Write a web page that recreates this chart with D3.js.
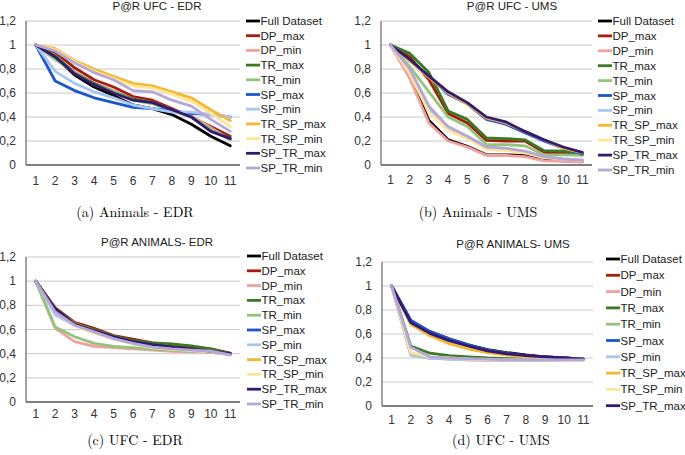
<!DOCTYPE html>
<html><head><meta charset="utf-8">
<script src="https://cdn.jsdelivr.net/npm/d3@7"></script>
<style>body{margin:0;background:#fff}svg{display:block}</style>
</head><body>
<script>
const xLabels = ["1","2","3","4","5","6","7","8","9","10","11"];
const yTicks = [0, 0.2, 0.4, 0.6, 0.8, 1, 1.2];
const yTickLabels = ["0","0,2","0,4","0,6","0,8","1","1,2"];
const seriesNames = ["Full Dataset","DP_max","DP_min","TR_max","TR_min","SP_max","SP_min","TR_SP_max","TR_SP_min","SP_TR_max","SP_TR_min"];
const seriesColors = ["#000000","#a61c0e","#f2a0a0","#3b7a22","#93c47d","#1c55d2","#a8c6f4","#f5b931","#ffe49a","#321a72","#b4a8d8"];

// (a) P@R UFC - EDR
const valuesA = [
  [1,0.90,0.75,0.65,0.58,0.50,0.47,0.42,0.34,0.24,0.16],
  [1,0.94,0.81,0.71,0.65,0.57,0.54,0.47,0.40,0.32,0.24],
  [1,0.88,0.78,0.68,0.62,0.55,0.52,0.46,0.41,0.31,0.21],
  [1,0.91,0.77,0.68,0.61,0.55,0.52,0.46,0.40,0.29,0.22],
  [1,0.88,0.77,0.67,0.61,0.54,0.51,0.45,0.40,0.30,0.21],
  [1,0.70,0.62,0.56,0.52,0.48,0.47,0.45,0.43,0.42,0.40],
  [1,0.78,0.68,0.61,0.56,0.50,0.47,0.44,0.44,0.42,0.40],
  [1,0.97,0.87,0.80,0.74,0.68,0.66,0.61,0.56,0.46,0.37],
  [1,0.96,0.86,0.78,0.72,0.66,0.64,0.59,0.53,0.43,0.32],
  [1,0.90,0.76,0.67,0.60,0.54,0.52,0.46,0.40,0.28,0.22],
  [1,0.95,0.85,0.77,0.71,0.62,0.61,0.54,0.49,0.38,0.28]
];
// (b) P@R UFC - UMS
const valuesB = [
  [1,0.74,0.37,0.21,0.155,0.085,0.085,0.08,0.045,0.035,0.03],
  [1,0.90,0.71,0.43,0.35,0.205,0.20,0.20,0.105,0.10,0.09],
  [1,0.72,0.35,0.20,0.15,0.08,0.08,0.07,0.035,0.03,0.025],
  [1,0.93,0.77,0.45,0.38,0.225,0.22,0.21,0.12,0.115,0.095],
  [1,0.82,0.61,0.40,0.32,0.17,0.17,0.16,0.085,0.085,0.08],
  [1,0.87,0.74,0.59,0.51,0.38,0.34,0.27,0.20,0.14,0.09],
  [1,0.78,0.47,0.31,0.23,0.14,0.13,0.11,0.07,0.05,0.04],
  [1,0.87,0.73,0.60,0.51,0.39,0.35,0.28,0.21,0.14,0.10],
  [1,0.76,0.44,0.29,0.22,0.13,0.12,0.10,0.06,0.05,0.04],
  [1,0.88,0.74,0.61,0.52,0.40,0.36,0.28,0.21,0.15,0.105],
  [1,0.80,0.49,0.32,0.24,0.15,0.14,0.115,0.07,0.05,0.04]
];
// (c) P@R ANIMALS- EDR
const valuesC = [
  [1,0.77,0.645,0.59,0.54,0.50,0.48,0.455,0.44,0.42,0.40],
  [1,0.78,0.66,0.61,0.55,0.52,0.49,0.47,0.455,0.44,0.405],
  [1,0.61,0.50,0.46,0.45,0.44,0.43,0.42,0.415,0.41,0.395],
  [1,0.77,0.65,0.60,0.545,0.51,0.49,0.48,0.465,0.44,0.40],
  [1,0.62,0.54,0.485,0.46,0.45,0.435,0.43,0.42,0.415,0.395],
  [1,0.74,0.64,0.585,0.53,0.49,0.46,0.445,0.435,0.42,0.395],
  [1,0.72,0.635,0.58,0.525,0.485,0.455,0.44,0.43,0.42,0.39],
  [1,0.76,0.65,0.59,0.535,0.495,0.465,0.45,0.435,0.42,0.395],
  [1,0.74,0.63,0.57,0.52,0.48,0.45,0.435,0.425,0.415,0.39],
  [1,0.77,0.645,0.59,0.54,0.50,0.475,0.455,0.44,0.42,0.40],
  [1,0.745,0.635,0.58,0.525,0.485,0.455,0.44,0.43,0.42,0.39]
];
// (d) P@R ANIMALS- UMS
const valuesD = [
  [1,0.71,0.62,0.56,0.51,0.47,0.445,0.425,0.41,0.40,0.39],
  [1,0.70,0.61,0.55,0.50,0.465,0.44,0.42,0.41,0.40,0.39],
  [1,0.43,0.40,0.39,0.385,0.38,0.38,0.38,0.38,0.385,0.385],
  [1,0.50,0.44,0.42,0.41,0.40,0.395,0.39,0.39,0.39,0.39],
  [1,0.425,0.40,0.395,0.39,0.385,0.385,0.385,0.385,0.385,0.385],
  [1,0.715,0.62,0.56,0.51,0.465,0.44,0.42,0.41,0.40,0.39],
  [1,0.43,0.40,0.39,0.385,0.38,0.38,0.38,0.38,0.385,0.385],
  [1,0.68,0.585,0.52,0.475,0.445,0.425,0.41,0.40,0.395,0.39],
  [1,0.445,0.41,0.40,0.39,0.385,0.385,0.385,0.385,0.385,0.385],
  [1,0.695,0.605,0.545,0.50,0.46,0.435,0.42,0.41,0.40,0.39],
  [1,0.49,0.41,0.40,0.395,0.39,0.385,0.385,0.385,0.385,0.385]
];

const panels = [
  {title:"P@R UFC - EDR", caption:"(a) Animals - EDR", values:valuesA, left:26, right:240, top:21, bottom:165, titleX:157, titleY:6, tickY:181, legX:246, legY:21, legStep:14.7, legN:11, capX:135, capY:211},
  {title:"P@R UFC - UMS", caption:"(b) Animals - UMS", values:valuesB, left:381, right:592, top:21, bottom:165, titleX:512, titleY:6, tickY:180, legX:598, legY:21, legStep:14.9, legN:11, capX:478, capY:211},
  {title:"P@R ANIMALS- EDR", caption:"(c) UFC - EDR", values:valuesC, left:26, right:240, top:257, bottom:402, titleX:157, titleY:242, tickY:414, legX:247, legY:256, legStep:14.8, legN:11, capX:135, capY:439},
  {title:"P@R ANIMALS- UMS", caption:"(d) UFC - UMS", values:valuesD, left:382, right:593, top:262, bottom:406, titleX:513, titleY:244, tickY:420, legX:606, legY:259, legStep:16.3, legN:10, capX:501, capY:439}
];

const svg = d3.select("body").append("svg").attr("width",685).attr("height",455);
const sans = "'Liberation Sans', Arial, sans-serif";
const serif = "'Latin Modern Roman','CMU Serif','Liberation Serif',serif";

panels.forEach(p => {
  const g = svg.append("g");
  const x = d3.scaleBand().domain(xLabels).range([p.left, p.right]);
  const y = d3.scaleLinear().domain([0, 1.2]).range([p.bottom, p.top]);
  const cx = d => x(d) + x.bandwidth()/2;

  // gridlines
  g.selectAll("line.grid").data(yTicks.filter(t => t > 0)).enter().append("line")
    .attr("x1", p.left).attr("x2", p.right)
    .attr("y1", d => y(d)).attr("y2", d => y(d))
    .attr("stroke", "#c8c8c8").attr("stroke-width", 1);

  // y tick labels
  g.selectAll("text.yt").data(yTicks).enter().append("text")
    .attr("x", p.left - 10).attr("y", d => y(d))
    .attr("text-anchor", "end").attr("dominant-baseline", "central")
    .attr("font-family", sans).attr("font-size", 12).attr("fill", "#333")
    .text((d, i) => yTickLabels[i]);

  // x tick labels
  g.selectAll("text.xt").data(xLabels).enter().append("text")
    .attr("x", d => cx(d)).attr("y", p.tickY)
    .attr("text-anchor", "middle").attr("dominant-baseline", "central")
    .attr("font-family", sans).attr("font-size", 12).attr("fill", "#333")
    .text(d => d);

  // axes lines
  g.append("line").attr("x1", p.left).attr("x2", p.left).attr("y1", p.top).attr("y2", p.bottom)
    .attr("stroke", "#666").attr("stroke-width", 1.2);
  g.append("line").attr("x1", p.left).attr("x2", p.right).attr("y1", p.bottom).attr("y2", p.bottom)
    .attr("stroke", "#555").attr("stroke-width", 1.5);

  // series
  const line = d3.line().x((d, i) => cx(xLabels[i])).y(d => y(d));
  p.values.forEach((vals, si) => {
    g.append("path").datum(vals).attr("d", line)
      .attr("fill", "none").attr("stroke", seriesColors[si])
      .attr("stroke-width", 2.8).attr("stroke-linejoin", "round").attr("stroke-linecap", "round");
  });

  // title
  g.append("text").attr("x", p.titleX).attr("y", p.titleY)
    .attr("text-anchor", "middle").attr("dominant-baseline", "central")
    .attr("font-family", sans).attr("font-size", 11.5).attr("fill", "#222").text(p.title);

  // legend
  const leg = g.selectAll("g.leg").data(seriesNames.slice(0, p.legN)).enter().append("g")
    .attr("transform", (d, i) => `translate(${p.legX},${p.legY + i * p.legStep})`);
  leg.append("line").attr("x1", 0).attr("x2", 14).attr("y1", 0).attr("y2", 0)
    .attr("stroke", (d, i) => seriesColors[i]).attr("stroke-width", 2.8);
  leg.append("text").attr("x", 14.5).attr("y", 0).attr("dominant-baseline", "central")
    .attr("font-family", sans).attr("font-size", 11.5).attr("fill", "#222").text(d => d);

  // caption
  g.append("text").attr("x", p.capX).attr("y", p.capY)
    .attr("text-anchor", "middle").attr("dominant-baseline", "central")
    .attr("font-family", serif).attr("font-size", 14).attr("fill", "#000").text(p.caption);
});
</script>
</body></html>
